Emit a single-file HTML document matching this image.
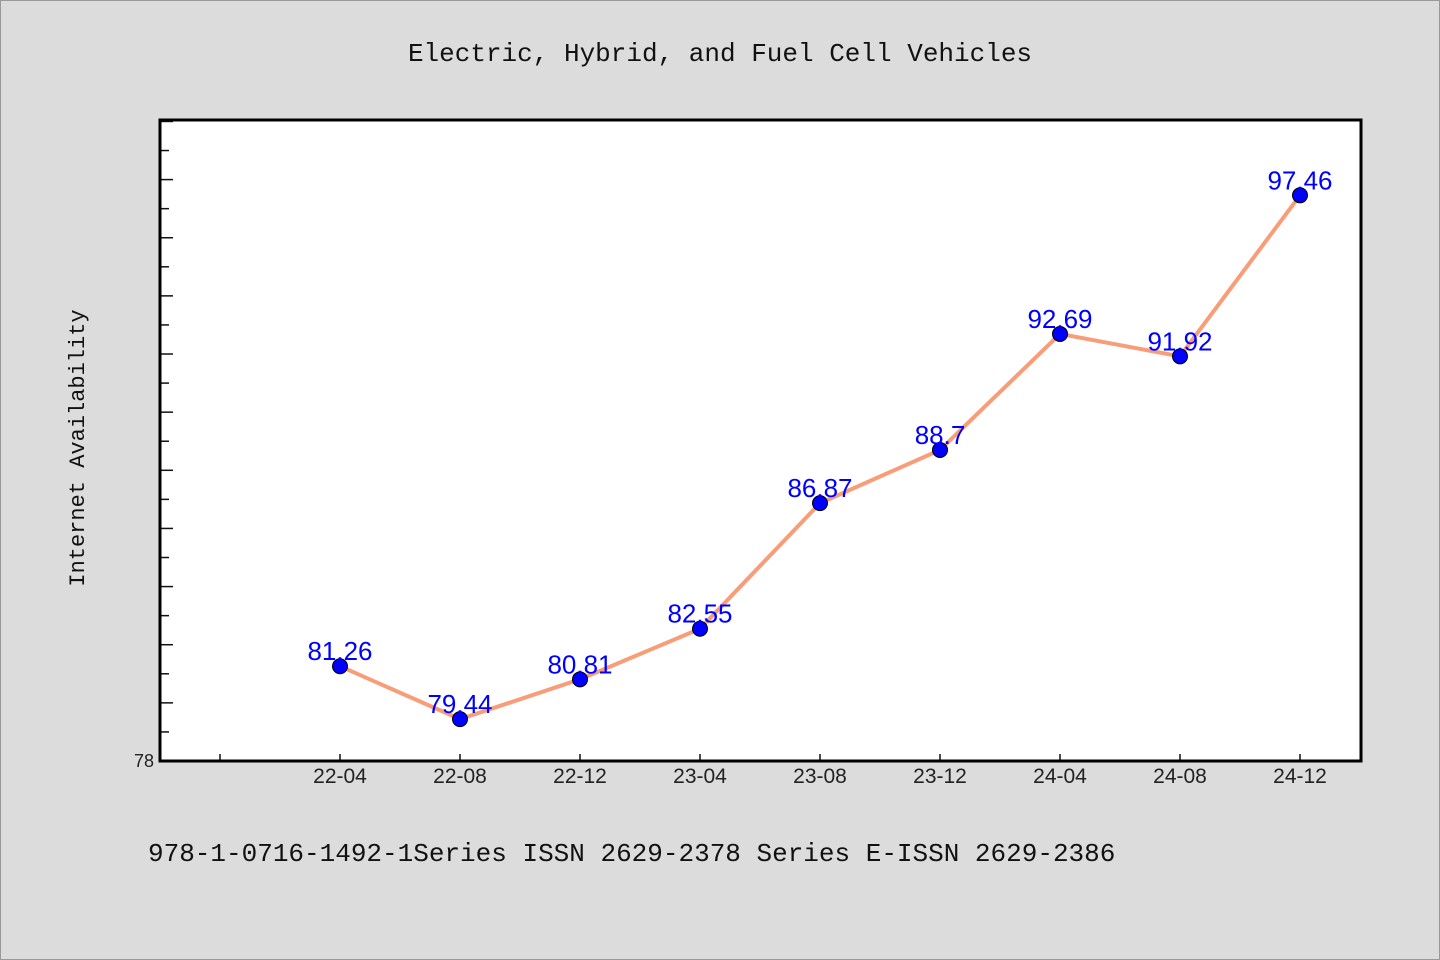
<!DOCTYPE html>
<html><head><meta charset="utf-8"><style>
body{margin:0;background:#dcdcdc;}
svg{display:block;font-family:"Liberation Mono","DejaVu Sans Mono",monospace;}
</style></head><body>
<svg id="chart" width="1440" height="960" viewBox="0 0 1440 960">
<rect x="0.5" y="0.5" width="1439" height="959" fill="#dcdcdc" stroke="#999"/>
<text x="720" y="61" text-anchor="middle" font-size="26" fill="#111">Electric, Hybrid, and Fuel Cell Vehicles</text>
<rect x="160" y="120" width="1201" height="641" fill="#fff"/>
<g id="ticks"></g>
<g id="series"></g>
<rect x="160" y="120" width="1201" height="641" fill="none" stroke="#000" stroke-width="3"/>
<text x="154" y="767" text-anchor="end" font-size="18" font-family="Liberation Sans, sans-serif" fill="#222">78</text>
<text transform="translate(84,448) rotate(-90)" text-anchor="middle" font-size="22" fill="#111">Internet Availability</text>
<text x="148" y="861" font-size="26" fill="#111">978-1-0716-1492-1Series ISSN 2629-2378 Series E-ISSN 2629-2386</text>
</svg>
<script>
const categories=["22-04","22-08","22-12","23-04","23-08","23-12","24-04","24-08","24-12"];
const values=[81.26,79.44,80.81,82.55,86.87,88.7,92.69,91.92,97.46];
const labels=["81.26","79.44","80.81","82.55","86.87","88.7","92.69","91.92","97.46"];
const yMin=78, yMax=100.05;
const ns="http://www.w3.org/2000/svg";
function y(v){return 761-(v-yMin)*(641/(yMax-yMin));}
function x(i){return 340+i*120;}
function mk(t,a,p){const e=document.createElementNS(ns,t);for(const k in a)e.setAttribute(k,a[k]);p.appendChild(e);return e;}
const tk=document.getElementById('ticks'), sg=document.getElementById('series');
for(let v=yMin+1;v<yMax;v++){
  const l=mk('line',{x1:160,x2:160+((v%2===0)?13:9),y1:y(v),y2:y(v),stroke:'#111','stroke-width':1.5},tk);
  
  
}
for(let i=-1;i<categories.length;i++){
  const l=mk('line',{x1:x(i),x2:x(i),y1:761,y2:754,stroke:'#111','stroke-width':1.5},tk);
  
  
  if(i>=0){
    const t=mk('text',{x:x(i),y:783,'text-anchor':'middle','font-size':21,fill:'#222','font-family':'Liberation Sans, sans-serif'},tk);
    t.textContent=categories[i];
    
    
  }
}
const pl=mk('polyline',{points:values.map((v,i)=>x(i)+','+y(v)).join(' '),fill:'none',stroke:'#f99c78','stroke-width':4},sg);


values.forEach((v,i)=>{
  const c=mk('circle',{cx:x(i),cy:y(v),r:7.5,fill:'#0000ff',stroke:'#000','stroke-width':1},sg);
  
  
  const t=mk('text',{x:x(i),y:y(v)-6,'text-anchor':'middle','font-size':26,fill:'#0000ff','font-family':'Liberation Sans, sans-serif'},sg);
  t.textContent=labels[i];
  
  
});
</script>
</body></html>
